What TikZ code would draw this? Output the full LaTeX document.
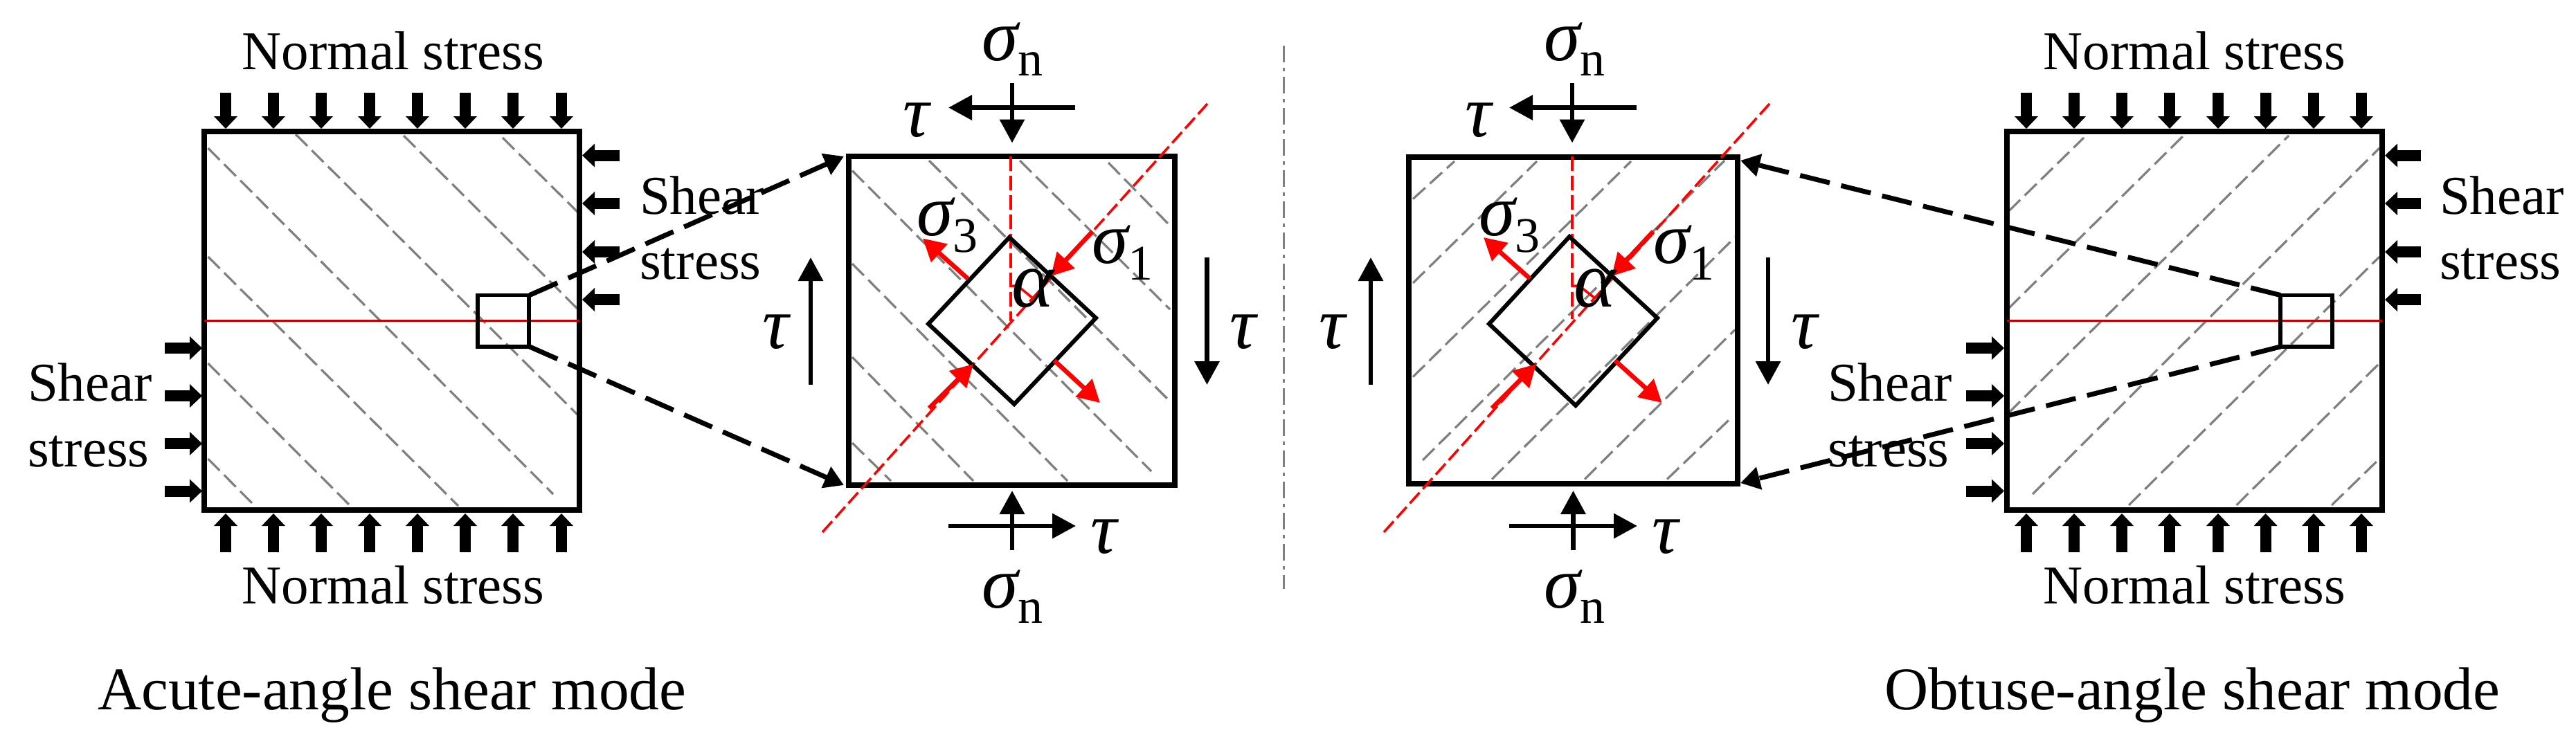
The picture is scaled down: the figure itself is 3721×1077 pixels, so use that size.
\documentclass[tikz,border=0pt]{standalone}
\usepackage{fontspec}
\setmainfont{Liberation Serif}
\usetikzlibrary{arrows.meta}
\definecolor{hatchgray}{HTML}{7F7F7F}
\definecolor{darkred}{HTML}{C00000}
\newcommand{\txtA}{\fontsize{79}{94}\selectfont}
\newcommand{\txtB}{\fontsize{87.5}{100}\selectfont}
\newcommand{\greek}[1]{{\fontsize{106}{110}\selectfont\itshape #1}}
\newcommand{\greekA}[1]{{\fontsize{116}{120}\selectfont\itshape #1}}
\newcommand{\subsc}[2]{\raisebox{#1pt}{\fontsize{72}{80}\selectfont #2}}
\tikzset{
  x=1pt,y=-1pt,
  lab/.style={inner sep=0pt,outer sep=0pt,anchor=base west,text=black},
  labc/.style={inner sep=0pt,outer sep=0pt,anchor=base,text=black},
  frame/.style={draw=black,line width=8.5pt,line join=miter},
  zoombox/.style={draw=black,line width=5.5pt},
  diam/.style={draw=black,line width=6pt,line join=miter},
  hatch/.style={draw=hatchgray,line width=3.2pt,dash pattern=on 24pt off 9pt},
  redline/.style={draw=darkred,line width=3pt},
  reddash/.style={draw=red,line width=3.5pt,dash pattern=on 21pt off 7pt},
  divider/.style={draw=hatchgray,line width=3.5pt,dash pattern=on 24pt off 8pt on 5pt off 8pt},
  load/.style={draw=black,line width=16pt,-{Triangle[length=18pt,width=33pt]}},
  thin arrow/.style={draw=black,line width=6.5pt,-{Triangle[length=34pt,width=35pt]}},
  red arrow/.style={draw=red,line width=6.5pt,-{Triangle[length=32pt,width=34pt]}},
  lead/.style={draw=black,line width=7pt,dash pattern=on 44pt off 17pt,-{Triangle[length=28pt,width=32pt]}},
}
\newcommand{\hatchset}[1]{\foreach \a/\b/\c/\d in {#1} \draw[hatch] (\a,\b) -- (\c,\d);}
\begin{document}
\begin{tikzpicture}
\useasboundingbox (0,0) rectangle (3721,1077);
% ---------- hatching
\hatchset{300.5/663/368/731, 300.5/525/506/731, 300.5/371/662/731, 300.5/214/799/714, 427/194/834/599, 583/196/834/446, 726/199/834/306}
\hatchset{1231/640/1287/695, 1231/516/1406/695, 1231/381/1542/695, 1231/246.5/1663/681, 1342/232/1690/580, 1473/232/1690/447, 1601/235/1690/326}
\hatchset{2041/287.5/2101/233, 2041/409/2220/233, 2041/544.6/2356/233, 2055/665/2491/232, 2155/692.5/2506/343, 2289/692.5/2506/476.5, 2408/692.5/2503/601.5}
\hatchset{2901/305.6/3010/199, 2901/446/3154/196, 2901/597/3306/196, 2936/714/3437/214, 3075/730/3437/371, 3230.5/730/3437/525, 3368/730/3437/663}
% ---------- frames
\draw[frame] (295,190) rectangle (837,737);
\draw[frame] (1226,226) rectangle (1697,701);
\draw[frame] (2035,227) rectangle (2510,699);
\draw[frame] (2899,190) rectangle (3441,737);
% ---------- red horizontal lines
\draw[redline] (295,463.6) -- (837,463.6);
\draw[redline] (2899,463.6) -- (3441,463.6);
% ---------- zoom boxes
\draw[zoombox] (690,426.5) rectangle (764,501);
\draw[zoombox] (3294,426.5) rectangle (3369,501);
\coordinate (lbT) at (765,426.5);
\coordinate (lbB) at (765,501);
\coordinate (rbT) at (3294,426.5);
\coordinate (rbB) at (3294,501);
\coordinate (sqAtl) at (1219,226);
\coordinate (sqAbl) at (1219,701);
\coordinate (sqBtr) at (2514,232);
\coordinate (sqBbr) at (2514,698);
% ---------- leaders
\draw[lead] (lbT) -- (sqAtl);
\draw[lead] (lbB) -- (sqAbl);
\draw[lead] (rbT) -- (sqBtr);
\draw[lead] (rbB) -- (sqBbr);
% ---------- load arrows, left block
\foreach \x in {326,395,464,534,603,672,741,811}{
  \draw[load] (\x,134) -- (\x,186);
  \draw[load] (\x,798) -- (\x,742);
}
\foreach \y in {224.6,294,364,433} \draw[load] (895,\y) -- (841,\y);
\foreach \y in {503,572,641,709.5} \draw[load] (238,\y) -- (292,\y);
% ---------- load arrows, right block
\foreach \x in {2927,2996,3065,3134,3204,3272.6,3342,3411}{
  \draw[load] (\x,134) -- (\x,186);
  \draw[load] (\x,798) -- (\x,742);
}
\foreach \y in {224.6,294,364,433} \draw[load] (3497,\y) -- (3445,\y);
\foreach \y in {503,572,641,709.5} \draw[load] (2840,\y) -- (2895,\y);
% ---------- element A
\draw[reddash] (1460,226) -- (1460,464);
\draw[reddash] (1188,769) -- (1744,150);
\draw[draw=red,line width=3.5pt] (1460,413) -- (1470,413) -- (1492,431);
\draw[diam] (1458,343) -- (1583,459.5) -- (1465,584) -- (1341,468) -- cycle;
\draw[thin arrow] (1553,155.5) -- (1370,155.5);
\draw[thin arrow] (1462,120) -- (1462,206.5);
\draw[thin arrow] (1462,795) -- (1462,709);
\draw[thin arrow] (1370,760) -- (1554,760);
\draw[thin arrow] (1171,556) -- (1171,372);
\draw[thin arrow] (1743.5,372) -- (1743.5,556);
\draw[red arrow] (1578,334.5) -- (1518,399);
\draw[red arrow] (1342,590) -- (1406,526);
\draw[red arrow] (1398,402.6) -- (1333,344.5);
\draw[red arrow] (1523,521) -- (1589,582);
% ---------- element B
\draw[reddash] (2271,226) -- (2271,461);
\draw[reddash] (1999,769) -- (2556,150);
\draw[draw=red,line width=3.5pt] (2271,413) -- (2281,413) -- (2304,431);
\draw[diam] (2267,342) -- (2394,459.5) -- (2276,586) -- (2151,468) -- cycle;
\draw[thin arrow] (2364,155.5) -- (2180,155.5);
\draw[thin arrow] (2271,120) -- (2271,206.5);
\draw[thin arrow] (2272.5,795) -- (2272.5,709);
\draw[thin arrow] (2180,760) -- (2365,760);
\draw[thin arrow] (1980,556) -- (1980,372);
\draw[thin arrow] (2554,372) -- (2554,556);
\draw[red arrow] (2388,334.5) -- (2328,399);
\draw[red arrow] (2155,590) -- (2219,526);
\draw[red arrow] (2210,402.6) -- (2143,343);
\draw[red arrow] (2333,521) -- (2400.6,582);
% ---------- divider
\draw[divider] (1854.5,66) -- (1854.5,851);
% ---------- texts
\node[labc] (n1) at (568,100) {\txtA Normal stress};
\node[labc] (n2) at (568,872) {\txtA Normal stress};
\node[labc] (n3) at (3170,100) {\txtA Normal stress};
\node[labc] (n4) at (3170,872) {\txtA Normal stress};
\node[lab] (s1a) at (924,309) {\txtA Shear};
\node[lab] (s1b) at (924,403) {\txtA stress};
\node[lab] (s2a) at (40,579) {\txtA Shear};
\node[lab] (s2b) at (40,674) {\txtA stress};
\node[lab] (s3a) at (3524,309) {\txtA Shear};
\node[lab] (s3b) at (3524,403) {\txtA stress};
\node[lab] (s4a) at (2640,579) {\txtA Shear};
\node[lab] (s4b) at (2640,674) {\txtA stress};
\node[lab] (c1) at (141,1025) {\txtB Acute-angle shear mode};
\node[lab] (c2) at (2722,1025) {\txtB Obtuse-angle shear mode};
% element A labels
\node[lab] (a1) at (1418,87) {\greek{σ}\subsc{-22}{n}};
\node[lab] (a2) at (1418,878) {\greek{σ}\subsc{-22}{n}};
\node[lab] (a3) at (1304,197) {\greek{τ}};
\node[lab] (a4) at (1575,799) {\greek{τ}};
\node[lab] (a5) at (1101,503) {\greek{τ}};
\node[lab] (a6) at (1776,503) {\greek{τ}};
\node[lab] (a7) at (1324,340) {\greek{σ}\subsc{-24}{3}};
\node[lab] (a8) at (1577,380) {\greek{σ}\subsc{-24}{1}};
\node[lab] (a9) at (1461,443) {\greekA{α}};
% element B labels
\node[lab] (b1) at (2230,87) {\greek{σ}\subsc{-22}{n}};
\node[lab] (b2) at (2230,878) {\greek{σ}\subsc{-22}{n}};
\node[lab] (b3) at (2116,197) {\greek{τ}};
\node[lab] (b4) at (2386,799) {\greek{τ}};
\node[lab] (b5) at (1905,503) {\greek{τ}};
\node[lab] (b6) at (2587,503) {\greek{τ}};
\node[lab] (b7) at (2136,340) {\greek{σ}\subsc{-24}{3}};
\node[lab] (b8) at (2388,380) {\greek{σ}\subsc{-24}{1}};
\node[lab] (b9) at (2273,443) {\greekA{α}};
\end{tikzpicture}
\end{document}
